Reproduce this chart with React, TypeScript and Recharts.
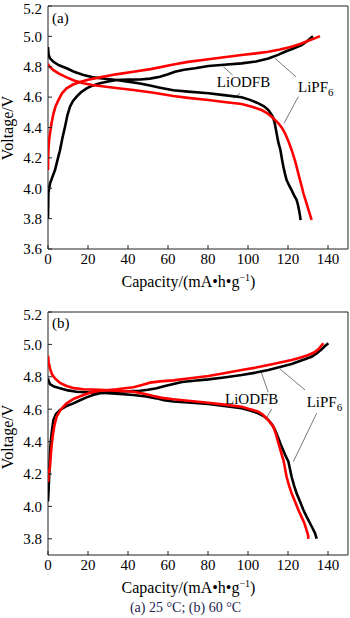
import React from 'react';
import { LineChart, Line, XAxis, YAxis, ReferenceArea, ReferenceLine, ReferenceDot } from 'recharts';

const FONT = '"Liberation Serif", "Times New Roman", serif';

// ---------- data ----------
const xTicks = [0, 20, 40, 60, 80, 100, 120, 140];
const yTicksA = [3.6, 3.8, 4.0, 4.2, 4.4, 4.6, 4.8, 5.0, 5.2];
const yTicksB = [3.8, 4.0, 4.2, 4.4, 4.6, 4.8, 5.0, 5.2];

// (a) 25 °C  — [capacity, voltage]
const odfbChargeA = [[0,3.80],[0.2,3.97],[1,4.03],[1.8,4.06],[3.5,4.12],[5.2,4.21],[6,4.25],[7.2,4.33],[8.5,4.405],[9.7,4.48],[11,4.537],[12.5,4.575],[14.3,4.603],[16.5,4.632],[19.3,4.658],[22.5,4.677],[26,4.691],[30,4.703],[34.3,4.713],[40,4.715],[46,4.716],[51,4.722],[56,4.734],[60,4.75],[63.5,4.767],[68,4.78],[73.5,4.79],[80.2,4.805],[88,4.813],[96.8,4.822],[104,4.835],[110.2,4.855],[115,4.878],[118.5,4.899],[123,4.922],[126.8,4.943],[129.5,4.968],[131.8,4.994],[132.5,5.0]];
const odfbDischargeA = [[0,4.93],[0.3,4.88],[1,4.855],[2.7,4.833],[5.5,4.81],[9.3,4.79],[13,4.767],[17.7,4.746],[22,4.733],[26,4.724],[34.3,4.713],[40,4.702],[46,4.69],[51,4.676],[56,4.662],[62.7,4.645],[70,4.636],[80.2,4.625],[88,4.613],[96.8,4.599],[101,4.582],[105.2,4.559],[108,4.54],[110.2,4.515],[112,4.48],[112.7,4.46],[113.5,4.42],[114.3,4.362],[115.2,4.3],[116.2,4.252],[117,4.19],[117.7,4.142],[118.5,4.095],[119.3,4.054],[120.5,4.02],[121.8,3.988],[123,3.955],[124.3,3.923],[125,3.89],[125.5,3.857],[126,3.82],[126.3,3.79]];
const pf6ChargeA = [[0,4.12],[0.1,4.2],[0.2,4.25],[0.5,4.31],[1,4.36],[1.8,4.43],[2.7,4.49],[3.8,4.54],[5.2,4.58],[7,4.625],[9.3,4.658],[12.5,4.683],[16,4.70],[20,4.715],[26,4.73],[34,4.75],[42.7,4.767],[52,4.786],[62.7,4.815],[70,4.832],[80.2,4.849],[88,4.862],[96.8,4.877],[104,4.888],[110.2,4.899],[116,4.913],[121.8,4.932],[126,4.95],[130.2,4.971],[133,4.985],[136,5.002]];
const pf6DischargeA = [[0,4.82],[0.5,4.805],[2.7,4.778],[5.5,4.755],[9.3,4.73],[13,4.71],[17.7,4.691],[22,4.68],[26,4.673],[34,4.66],[42.7,4.647],[52,4.63],[62.7,4.607],[70,4.595],[80.2,4.581],[88,4.568],[96.8,4.555],[102,4.537],[106.8,4.515],[109.5,4.495],[111.8,4.471],[113.5,4.45],[115.2,4.428],[117,4.397],[118.5,4.362],[120.2,4.31],[121.8,4.252],[123.3,4.19],[124.3,4.142],[125.2,4.095],[126,4.054],[126.9,4.01],[127.7,3.967],[128.8,3.92],[129.8,3.878],[130.8,3.835],[131.8,3.791]];

// (b) 60 °C
const odfbChargeB = [[0,4.03],[0.3,4.1],[0.7,4.225],[1,4.32],[1.3,4.39],[2,4.47],[2.7,4.533],[4,4.57],[6,4.595],[9,4.618],[12.7,4.636],[16,4.655],[19.3,4.673],[22.5,4.687],[26,4.698],[30,4.704],[34.3,4.708],[40,4.711],[46,4.714],[50,4.72],[54.3,4.729],[58,4.742],[62.7,4.756],[67,4.768],[73,4.776],[80.2,4.784],[88,4.796],[96.8,4.811],[104,4.826],[110.2,4.842],[116,4.86],[121.8,4.879],[127,4.902],[131.8,4.924],[134.5,4.945],[136.8,4.97],[138.5,4.99],[140.2,5.007]];
const pf6ChargeB = [[0,4.15],[0.3,4.2],[1,4.245],[1.6,4.35],[2.3,4.43],[3.2,4.5],[4.3,4.554],[6.5,4.6],[9.3,4.636],[13,4.665],[17.7,4.688],[21.5,4.703],[26,4.714],[34.3,4.723],[42.7,4.735],[47,4.75],[51,4.764],[56,4.772],[62.7,4.778],[70,4.79],[80.2,4.805],[88,4.822],[96.8,4.842],[104,4.857],[110.2,4.873],[116,4.888],[121.8,4.904],[126,4.918],[130.2,4.935],[133,4.95],[135.2,4.97],[136.5,4.99],[137.7,5.007]];
const odfbDischargeB = [[0,4.79],[0.3,4.775],[1,4.755],[3,4.74],[6,4.729],[10,4.716],[14.3,4.708],[20,4.704],[26,4.702],[34,4.696],[42.7,4.688],[49,4.678],[54.3,4.667],[58,4.656],[62.7,4.648],[70,4.641],[80.2,4.632],[88,4.62],[96.8,4.606],[101,4.592],[105.2,4.575],[108,4.556],[110.2,4.533],[112,4.505],[113.5,4.472],[115.2,4.42],[116.8,4.369],[118.5,4.32],[120.2,4.276],[121,4.23],[121.8,4.183],[123,4.13],[124.3,4.081],[126,4.03],[127.7,3.978],[129.3,3.937],[131,3.896],[132.3,3.865],[133.5,3.834],[134,3.815],[134.3,3.80]];
const pf6DischargeB = [[0,4.93],[0.3,4.89],[1,4.852],[2,4.815],[3.5,4.79],[6,4.762],[9.3,4.743],[13,4.73],[17.7,4.723],[26,4.719],[34,4.714],[42.7,4.708],[48,4.696],[52.7,4.681],[57,4.67],[62.7,4.661],[70,4.652],[80.2,4.64],[88,4.628],[96.8,4.615],[101,4.6],[105.2,4.585],[107.5,4.566],[109.3,4.544],[111,4.52],[112.7,4.492],[114,4.445],[115.2,4.39],[116.5,4.335],[117.7,4.286],[118.5,4.235],[119.3,4.183],[120.5,4.13],[121.8,4.081],[123.5,4.03],[125.2,3.978],[126.7,3.937],[128.2,3.896],[129,3.865],[129.8,3.834],[130.1,3.815],[130.2,3.80]];

const toPts = (arr: number[][]) => arr.map(([x, v]) => ({ x, v }));

// annotation leader lines: [x1, v1, x2, v2]
const leadersA = [[87.65,4.80,92.35,4.745],[92.65,4.592,96,4.625],[113.5,4.855,124,4.734],[125.15,4.603,118,4.428]];
const leadersB = [[106.5,4.831,110.15,4.704],[108.85,4.538,111.85,4.601],[116,4.848,128.5,4.719],[134.35,4.575,122.65,4.276]];

const BLACK = '#000';
const RED = '#f00';

const tickStyle = { fill: '#000', fontSize: 15, fontFamily: FONT };

function TextAt(props: any) {
  const { viewBox, kind } = props;
  const cx = viewBox.x + viewBox.width / 2;
  const cy = viewBox.y + viewBox.height / 2;
  if (kind === 'odfb') {
    return <text x={cx} y={cy} textAnchor="middle" fontFamily={FONT} fontSize={15} fill="#000">LiODFB</text>;
  }
  if (kind === 'pf6') {
    return (
      <text x={cx} y={cy} textAnchor="start" fontFamily={FONT} fontSize={15} fill="#000">
        LiPF<tspan dy={4} fontSize={11}>6</tspan>
      </text>
    );
  }
  return <text x={cx} y={cy} textAnchor="start" fontFamily={FONT} fontSize={15} fill="#000">{kind}</text>;
}

function YTitle(cy: number) {
  return () => (
    <text x={13} y={cy} transform={`rotate(-90, 13, ${cy})`} textAnchor="middle" fontFamily={FONT} fontSize={16} fill="#000">
      Voltage/V
    </text>
  );
}

function XTitle() {
  return (
    <text x={188.5} y={287} textAnchor="middle" fontFamily={FONT} fontSize={16} fill="#000">
      Capacity/(mA•h•g<tspan dy={-6} fontSize={10}>−1</tspan><tspan dy={6}>)</tspan>
    </text>
  );
}

function Panel(props: {
  height: number;
  yDomain: [number, number];
  yTicks: number[];
  series: { data: number[][]; color: string }[];
  leaders: number[][];
  tag: string;
  tagPos: [number, number];
  odfbPos: [number, number];
  pf6Pos: [number, number];
  yTitleY: number;
}) {
  const { height, yDomain, yTicks, series, leaders, tag, tagPos, odfbPos, pf6Pos, yTitleY } = props;
  return (
    <LineChart width={350} height={height} margin={{ top: 6, right: 2, bottom: 0, left: 0 }}>
      <XAxis
        type="number"
        dataKey="x"
        domain={[0, 150]}
        allowDataOverflow
        ticks={xTicks}
        tickSize={-4}
        tickMargin={8}
        height={height - 6 - 243}
        axisLine={false}
        tickLine={{ stroke: '#222' }}
        tick={tickStyle}
        label={XTitle}
      />
      <YAxis
        type="number"
        dataKey="v"
        domain={yDomain}
        allowDataOverflow
        ticks={yTicks}
        tickFormatter={(v: number) => v.toFixed(1)}
        width={48}
        tickSize={-4}
        tickMargin={10}
        axisLine={false}
        tickLine={{ stroke: '#222' }}
        tick={tickStyle}
        label={YTitle(yTitleY)}
      />
      <ReferenceArea x1={0} x2={150} y1={yDomain[0]} y2={yDomain[1]} fill="none" fillOpacity={0} stroke="#222" strokeWidth={1} ifOverflow="visible" />
      {leaders.map((l, i) => (
        <ReferenceLine key={'l' + i} segment={[{ x: l[0], y: l[1] }, { x: l[2], y: l[3] }]} stroke="#555" strokeWidth={0.8} ifOverflow="visible" />
      ))}
      {series.map((s, i) => (
        <Line
          key={'s' + i}
          data={toPts(s.data)}
          dataKey="v"
          type="linear"
          stroke={s.color}
          strokeWidth={2.6}
          dot={false}
          activeDot={false}
          isAnimationActive={false}
        />
      ))}
      <ReferenceDot x={tagPos[0]} y={tagPos[1]} r={1} fill="none" stroke="none" ifOverflow="visible" label={(p: any) => <TextAt {...p} kind={tag} />} />
      <ReferenceDot x={odfbPos[0]} y={odfbPos[1]} r={1} fill="none" stroke="none" ifOverflow="visible" label={(p: any) => <TextAt {...p} kind="odfb" />} />
      <ReferenceDot x={pf6Pos[0]} y={pf6Pos[1]} r={1} fill="none" stroke="none" ifOverflow="visible" label={(p: any) => <TextAt {...p} kind="pf6" />} />
    </LineChart>
  );
}

export default function App() {
  return (
    <div style={{ position: 'absolute', left: 0, top: 0, width: 350, height: 618, background: '#fff' }}>
      <div style={{ position: 'absolute', left: 0, top: 0 }}>
        <Panel
          height={300}
          yDomain={[3.6, 5.2]}
          yTicks={yTicksA}
          series={[
            { data: odfbChargeA, color: BLACK },
            { data: odfbDischargeA, color: BLACK },
            { data: pf6ChargeA, color: RED },
            { data: pf6DischargeA, color: RED },
          ]}
          leaders={leadersA}
          tag="(a)"
          tagPos={[2, 5.088]}
          odfbPos={[97.75, 4.665]}
          pf6Pos={[125, 4.636]}
          yTitleY={128}
        />
      </div>
      <div style={{ position: 'absolute', left: 0, top: 306 }}>
        <Panel
          height={312}
          yDomain={[3.7, 5.2]}
          yTicks={yTicksB}
          series={[
            { data: odfbChargeB, color: BLACK },
            { data: odfbDischargeB, color: BLACK },
            { data: pf6ChargeB, color: RED },
            { data: pf6DischargeB, color: RED },
          ]}
          leaders={leadersB}
          tag="(b)"
          tagPos={[2, 5.101]}
          odfbPos={[101.85, 4.63]}
          pf6Pos={[129.35, 4.615]}
          yTitleY={131}
        />
      </div>
      <svg width={350} height={22} style={{ position: 'absolute', left: 0, top: 596 }}>
        <text x={185.5} y={16} textAnchor="middle" fontFamily={FONT} fontSize={14} fill="#1d2452">
          (a) 25 °C; (b) 60 °C
        </text>
      </svg>
    </div>
  );
}
